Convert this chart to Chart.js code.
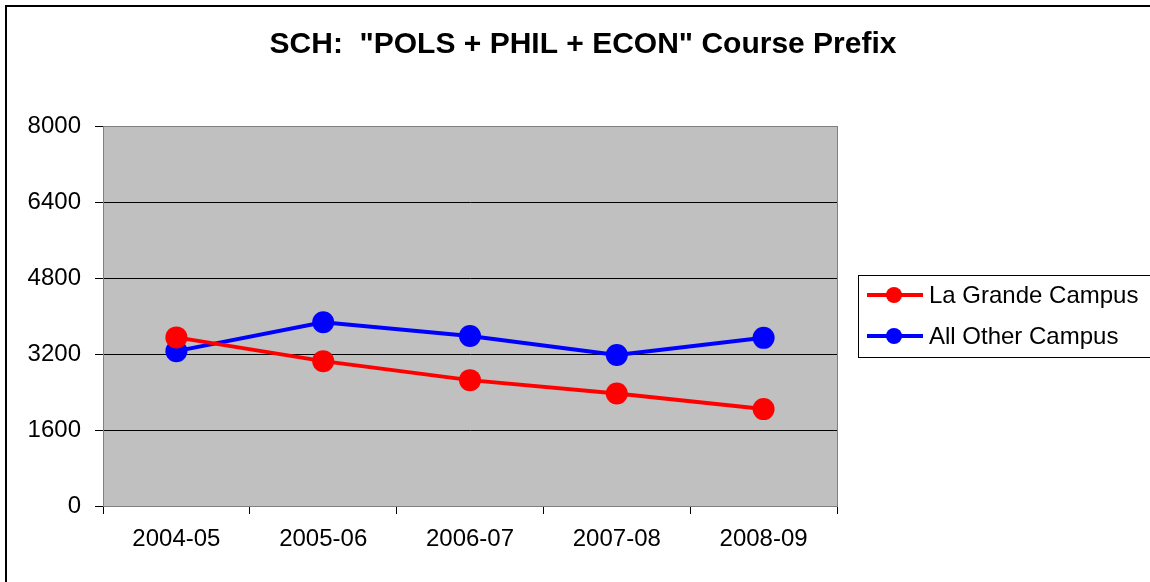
<!DOCTYPE html>
<html>
<head>
  <meta charset="UTF-8">
  <title>SCH: POLS + PHIL + ECON</title>
  <script src="https://cdn.jsdelivr.net/npm/chart.js"></script>
  <style>
    body { margin: 0; background: #fff; }
    #wrap { width: 1150px; height: 582px; }
  </style>
</head>
<body>
  <div id="wrap"><canvas id="schChart" width="1150" height="582"></canvas></div>

  <script>
    const chartTitle = 'SCH:  "POLS + PHIL + ECON" Course Prefix';
    const years = ['2004-05', '2005-06', '2006-07', '2007-08', '2008-09'];
    const laGrande = [3550, 3050, 2650, 2370, 2040];
    const allOther = [3260, 3870, 3580, 3180, 3540];
    const yTicks = [0, 1600, 3200, 4800, 6400, 8000];

    const FONT = "'Liberation Sans', Arial, sans-serif";

    // grey plot area, outer frame, title
    const backdrop = {
      id: 'backdrop',
      beforeDraw(chart) {
        const c = chart.ctx, a = chart.chartArea;
        c.save();
        c.fillStyle = '#fff';
        c.fillRect(0, 0, chart.width, chart.height);
        c.strokeStyle = '#000';
        c.lineWidth = 2;
        c.strokeRect(6, 6, chart.width + 20, chart.height + 20);
        c.fillStyle = '#c0c0c0';
        c.fillRect(a.left, a.top, a.right - a.left, a.bottom - a.top);
        c.fillStyle = '#000';
        c.font = 'bold 30px ' + FONT;
        c.textAlign = 'center';
        c.textBaseline = 'middle';
        c.fillText(chartTitle, 583, 45);
        c.restore();
      },
      afterDraw(chart) {
        const c = chart.ctx, a = chart.chartArea;
        c.save();
        c.strokeStyle = '#808080';
        c.lineWidth = 1;
        c.strokeRect(a.left + 0.5, a.top + 0.5, a.right - a.left, a.bottom - a.top);
        c.restore();
      }
    };

    // legend box on the right, cut off by the picture edge
    const sideLegend = {
      id: 'sideLegend',
      afterDraw(chart) {
        const c = chart.ctx;
        c.save();
        c.fillStyle = '#fff';
        c.fillRect(858, 275, 320, 82);
        c.strokeStyle = '#000';
        c.lineWidth = 1;
        c.strokeRect(858.5, 275.5, 320, 82);
        c.font = '24px ' + FONT;
        c.textBaseline = 'middle';
        c.textAlign = 'left';
        chart.data.datasets.forEach((ds, i) => {
          const y = 295 + i * 41;
          c.strokeStyle = ds.borderColor;
          c.lineWidth = 4;
          c.beginPath();
          c.moveTo(867, y);
          c.lineTo(923, y);
          c.stroke();
          c.fillStyle = ds.borderColor;
          c.beginPath();
          c.arc(894, y, 8, 0, Math.PI * 2);
          c.fill();
          c.fillStyle = '#000';
          c.fillText(ds.label, 929, y + 1);
        });
        c.restore();
      }
    };

    const ctx = document.getElementById('schChart').getContext('2d');
    new Chart(ctx, {
      type: 'line',
      data: {
        labels: years,
        datasets: [
          {
            label: 'La Grande Campus',
            data: laGrande,
            borderColor: '#ff0000',
            backgroundColor: '#ff0000',
            borderWidth: 4,
            pointRadius: 11,
            pointBorderWidth: 0,
            pointHoverRadius: 11,
            tension: 0
          },
          {
            label: 'All Other Campus',
            data: allOther,
            borderColor: '#0000ff',
            backgroundColor: '#0000ff',
            borderWidth: 4,
            pointRadius: 11,
            pointBorderWidth: 0,
            pointHoverRadius: 11,
            tension: 0
          }
        ]
      },
      options: {
        responsive: false,
        animation: false,
        layout: { padding: { left: 0, top: 126, right: 313, bottom: 0 } },
        plugins: {
          legend: { display: false },
          title: { display: false },
          tooltip: { enabled: false }
        },
        scales: {
          x: {
            offset: true,
            grid: {
              offset: true,
              drawOnChartArea: false,
              drawTicks: true,
              tickLength: 8,
              color: '#000'
            },
            border: { color: '#000' },
            ticks: { color: '#000', font: { family: FONT, size: 24 }, padding: 11, maxRotation: 0 },
            afterFit(scale) { scale.height = 76; }
          },
          y: {
            min: 0,
            max: 8000,
            afterBuildTicks(scale) { scale.ticks = yTicks.map(v => ({ value: v })); },
            grid: { color: '#000', tickLength: 8, drawTicks: true },
            border: { color: '#000' },
            ticks: {
              color: '#000',
              font: { family: FONT, size: 24 },
              padding: 14,
              callback: v => String(v)
            },
            afterFit(scale) { scale.width = 103; }
          }
        }
      },
      plugins: [backdrop, sideLegend]
    });
  </script>
</body>
</html>
